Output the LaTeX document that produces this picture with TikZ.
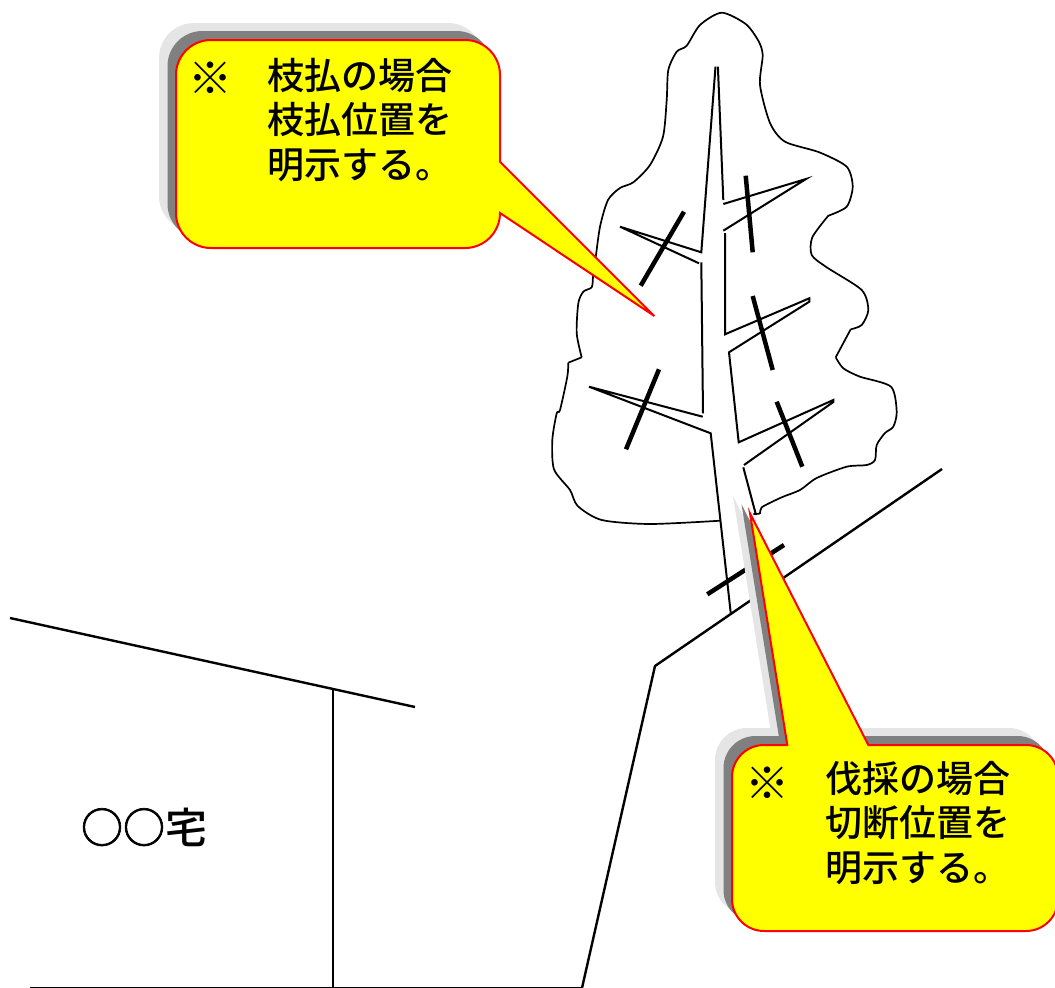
\documentclass[tikz,border=0pt]{standalone}
\usepackage{fontspec}
\newfontfamily\jpfont{Noto Sans CJK JP Medium}
\newfontfamily\jpcircle[FakeBold=1.6]{Noto Sans CJK JP Medium}
\definecolor{bubbleyellow}{rgb}{1,1,0}
\definecolor{bubblered}{rgb}{1,0,0}
\definecolor{farshadow}{rgb}{0.898,0.898,0.898}
\definecolor{nearshadow}{rgb}{0.502,0.502,0.502}
\tikzset{
  treeline/.style={black,line width=1.7pt,line join=round},
  trunkline/.style={black,line width=2pt,line join=miter},
  cutmark/.style={black,line width=4.5pt},
  groundline/.style={black,line width=2.4pt,line join=round},
  shadowfar/.style={fill=farshadow},
  shadownear/.style={fill=nearshadow},
  bubble/.style={fill=bubbleyellow,draw=bubblered,line width=2pt,line join=miter},
  calltext/.style={font=\jpfont\fontsize{37}{44.4}\selectfont,inner sep=0pt,align=left,anchor=north west,text=black},
  callmark/.style={font=\jpfont\fontsize{44}{44}\selectfont,inner sep=0pt,text=black},
}
\newcommand{\bubbleA}{(211,40) -- (465,40) arc[start angle=-90,end angle=0,radius=35] -- (500,161.7) -- (654.3,316) -- (500,213) arc[start angle=0,end angle=90,radius=35] -- (211,248) arc[start angle=90,end angle=180,radius=35] -- (176,75) arc[start angle=180,end angle=270,radius=35] -- cycle}
\newcommand{\bubbleB}{(764,745) -- (787.3,745) -- (750,513.3) -- (868.3,745) -- (1026,745) arc[start angle=-90,end angle=0,radius=32] -- (1058,899) arc[start angle=0,end angle=90,radius=32] -- (764,931) arc[start angle=90,end angle=180,radius=32] -- (732,777) arc[start angle=180,end angle=270,radius=32] -- cycle}
\begin{document}
\begin{tikzpicture}[x=1pt,y=-1pt]
\useasboundingbox (0,0) rectangle (1055,988);
\clip (0,0) rectangle (1055,988);
% ground and house
\draw[groundline] (942,469) -- (655,666) -- (582,988);
\draw[groundline] (30,988) -- (582,988);
\draw[groundline] (10,618) -- (415,707);
\draw[groundline] (333,689) -- (333,988);
\node[font=\jpcircle\fontsize{42}{42}\selectfont,inner sep=0pt] (house) at (144,827) {○○{\jpfont 宅}};
% crown outline
\draw[treeline] plot[smooth,tension=0.45] coordinates {
 (720.3,520.7) (650,524) (601.7,520) (577.7,506) (570,490) (554,469.3) (552.3,440) (556.7,413.3) (560,410) (567.3,376.7) (568.3,362.7)};
\draw[treeline] (568.3,362.7) -- (581.7,357.3);
\draw[treeline] plot[smooth,tension=0.45] coordinates {
 (581.7,357.3) (576.7,333.3) (578.3,303.3) (583.3,291.7) (591.7,287.3) (593,277) (595,263) (600,226.7) (608,200) (620,188) (633.3,182.3) (650,165) (663,136.7) (666.7,100) (668.3,70) (676.7,51.7) (686.7,45.7) (700,25) (721.7,12.7) (745.7,24) (758.3,40.7) (762.7,55) (760,85) (770,123) (785,141.7) (819.3,152.3) (846.7,166.7) (852.7,186.7) (846.7,206.7) (828.3,215.7)};
\draw[treeline] plot[smooth,tension=0.45] coordinates {
 (828.3,215.7) (812.3,237.3) (811.7,255) (826.7,267.3) (861.7,290) (868.3,310) (861.7,325) (850.7,329.3)};
\draw[treeline] (850.7,329.3) -- (835.7,357.3);
\draw[treeline] plot[smooth,tension=0.45] coordinates {
 (835.7,357.3) (843.3,368.3) (860,376.7) (891,386.7) (896.7,411.7) (893.3,426.7) (885,433) (876.7,445) (875,460) (866.7,465) (846.7,466.7) (816.7,478) (800,490) (781.7,497.3) (761.7,507.3) (760,513.3) (753.3,514)};
% trunk and branches
\draw[trunkline] (715.5,66.7) -- (701.3,252.3) -- (620,226.7) -- (699,263.3);
\draw[trunkline] (701.3,262.3) -- (703,413.3);
\draw[trunkline] (702.7,416.7) -- (589,386.7) -- (710.7,433.3) -- (730.7,612.7);
\draw[trunkline] (717.9,66.7) -- (723.3,200);
\draw[trunkline] (723.3,204) -- (806,179) -- (723.3,230.7);
\draw[trunkline] (725,233) -- (725,334.3) -- (809.3,298.3) -- (809.3,301.7) -- (729,352.3) -- (738.7,442.3) -- (833.3,400) -- (833.3,402) -- (744,465);
\draw[trunkline] (743.3,467.3) -- (756,515);
% pruning and felling marks
\draw[cutmark] (684,211.7) -- (640.7,285.7);
\draw[cutmark] (745.7,175.7) -- (752.7,252.3);
\draw[cutmark] (752.7,296) -- (772.7,370);
\draw[cutmark] (659,369.3) -- (626,449.3);
\draw[cutmark] (776.7,401.7) -- (802.3,466.7);
\draw[cutmark] (784,545) -- (707.3,594.3);
% callout A
\fill[shadowfar,shift={(-17,-17)}] \bubbleA;
\fill[shadownear,shift={(-8.5,-9)}] \bubbleA;
\path[bubble] \bubbleA;
\node[callmark] (markA) at (210.5,78) {※};
\node[calltext] (textA) at (267,58) {枝払の場合\\枝払位置を\\明示する。};
% callout B
\fill[shadowfar,shift={(-17,-17)}] \bubbleB;
\fill[shadownear,shift={(-8.5,-9)}] \bubbleB;
\path[bubble] \bubbleB;
\node[callmark] (markB) at (767.5,783.5) {※};
\node[calltext] (textB) at (825,761) {伐採の場合\\切断位置を\\明示する。};
\end{tikzpicture}
\end{document}
